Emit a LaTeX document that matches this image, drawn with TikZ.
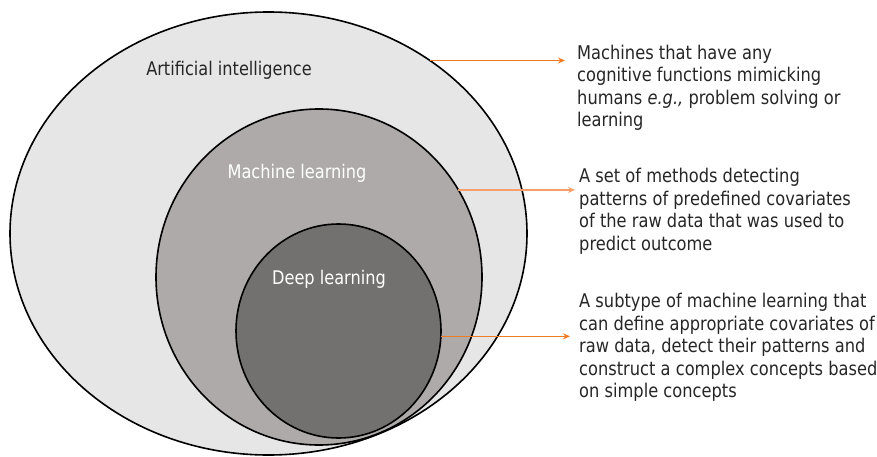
\documentclass[tikz,border=0pt]{standalone}
\usepackage{fontspec}
\setmainfont{DejaVu Sans}[FakeStretch=0.86]
\usetikzlibrary{arrows.meta,shapes,positioning,calc}
\definecolor{aifill}{HTML}{E6E6E6}
\definecolor{mlfill}{HTML}{AEAAAA}
\definecolor{dlfill}{HTML}{737070}
\definecolor{pointcol}{HTML}{F07B25}
\definecolor{pointpale}{HTML}{F5A06A}
\begin{document}
\begin{tikzpicture}
[x=1pt,y=-1pt,
ring/.style={shape=ellipse,draw=black,line width=1.6pt,inner sep=0pt,outer sep=0pt},
lbl/.style={font=\fontsize{18.8}{22}\selectfont},
desc/.style={anchor=north west,align=left,inner sep=0pt,text=black!85,
  font=\fontsize{18.9}{22.6}\selectfont},
pointer/.style={draw=pointcol,line width=1.1pt,-{Stealth[length=7pt,width=6pt]}}]
\useasboundingbox (0,0) rectangle (877,457);
%%
% nested sets
%%
\node[ring,fill=aifill,minimum width=517pt,minimum height=443pt] (ai) at (268.5,233.5) {};
\node[ring,fill=mlfill,minimum width=326pt,minimum height=336pt] (ml) at (319,277) {};
\node[ring,fill=dlfill,minimum width=205pt,minimum height=214pt] (dl) at (338.5,331) {};
\node[lbl,text=black!85] (ailbl) at (229,70) {Artificial intelligence};
\node[lbl,text=white] (mllbl) at (297,173) {Machine learning};
\node[lbl,text=white] (dllbl) at (329,279) {Deep learning};
%%
% descriptions
%%
\node[desc] (dai) at (577,44.5) {Machines that have any\\cognitive functions mimicking\\humans \textit{e.g.,} problem solving or\\learning};
\node[desc] (dml) at (579,168) {A set of methods detecting\\patterns of predefined covariates\\of the raw data that was used to\\predict outcome};
\node[desc] (ddl) at (579,293) {A subtype of machine learning that\\can define appropriate covariates of\\raw data, detect their patterns and\\construct a complex concepts based\\on simple concepts};
%%
% pointers
%%
\path
(ai.47.2) edge[pointer,shorten >=12pt] (ai.47.2 -| dai.west)
(ml.32.8) edge[pointer,draw=pointpale,line width=1.4pt,shorten >=4pt] (ml.32.8 -| dml.west)
(dl.-3.9) edge[pointer,shorten >=9pt] (dl.-3.9 -| ddl.west);
\end{tikzpicture}
\end{document}
